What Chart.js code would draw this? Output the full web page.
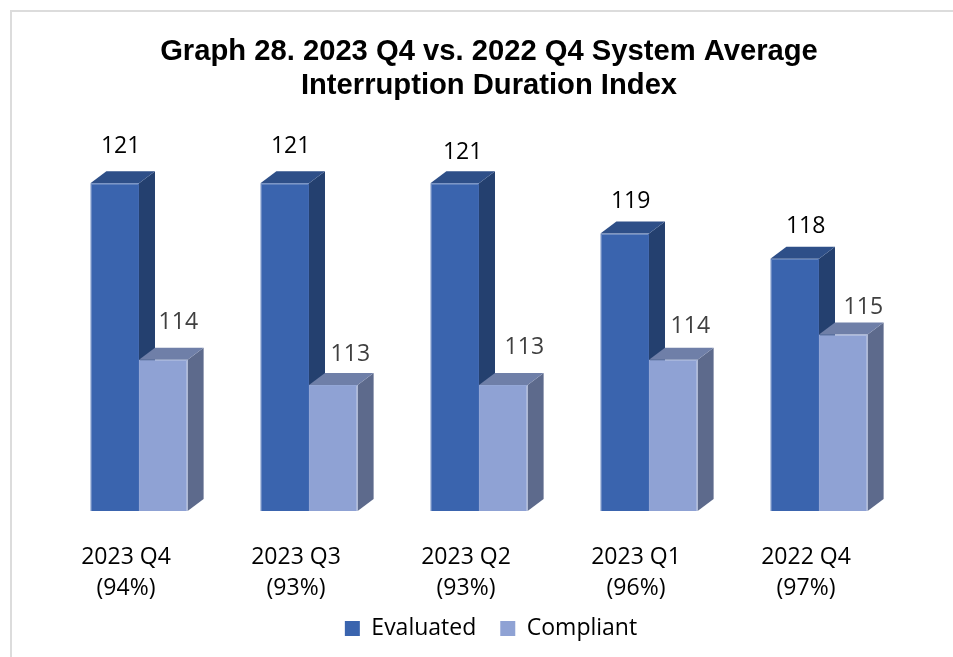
<!DOCTYPE html>
<html><head><meta charset="utf-8">
<style>
html,body{margin:0;padding:0;background:#fff;overflow:hidden}
#wrap{position:absolute;left:0;top:0;width:953px;height:657px}
#frame{position:absolute;left:10px;top:10px;width:960px;height:660px;border-left:2px solid #dcdcdc;border-top:2px solid #dcdcdc}
canvas{position:absolute;left:0;top:0}
</style>
<script src="https://cdn.jsdelivr.net/npm/chart.js@4"></script>
</head><body>
<div id="wrap"><div id="frame"></div><canvas id="c" width="953" height="657"></canvas></div>
<script>
const titleLines = ['Graph 28. 2023 Q4 vs. 2022 Q4 System Average', 'Interruption Duration Index'];
const quarters = ['2023 Q4', '2023 Q3', '2023 Q2', '2023 Q1', '2022 Q4'];
const rates = ['(94%)', '(93%)', '(93%)', '(96%)', '(97%)'];
const evaluated = [121, 121, 121, 119, 118];
const compliant = [114, 113, 113, 114, 115];
const baseValue = 108;
const evaluatedLabelShift = [[6,-37],[6,-37],[8,-31],[6,-32],[11,-32]];
const compliantLabelShift = [[15,-37],[17,-30],[21,-37],[17,-33],[20,-27]];
const depthX = 16, depthY = 12;
const styles = [
  {front:'#3A64AE', edge:'#4269B1', side:'#24406F', top:'#2E4F88', label:'#000000', shifts:evaluatedLabelShift},
  {front:'#8FA2D4', edge:'#94A7D6', side:'#5D6A8C', top:'#6F7FA8', label:'#404040', shifts:compliantLabelShift}
];
function poly(ctx, pts, fill){
  ctx.fillStyle = fill; ctx.beginPath();
  pts.forEach((p,i)=> i?ctx.lineTo(p[0],p[1]):ctx.moveTo(p[0],p[1]));
  ctx.closePath(); ctx.fill();
}
const bars3d = {
  id:'bars3d',
  afterLayout(chart){
    chart.titleBlock.left += 10; chart.titleBlock.right += 10;
    chart.legend.left += 12; chart.legend.right += 12;
    chart.legend.top -= 7; chart.legend.bottom -= 7;
  },
  beforeDatasetsDraw(chart){
    const ctx = chart.ctx;
    chart.data.datasets.forEach((ds,d)=>{
      const st = styles[d];
      chart.getDatasetMeta(d).data.forEach(el=>{
        const {x,y,base,width} = el.getProps(['x','y','base','width'],true);
        const l=x-width/2, r=x+width/2;
        poly(ctx,[[r,y],[r+depthX,y-depthY],[r+depthX,base-depthY],[r,base]],st.side);
        poly(ctx,[[l,y],[l+depthX,y-depthY],[r+depthX,y-depthY],[r,y]],st.top);
      });
    });
  },
  afterDatasetsDraw(chart){
    const ctx = chart.ctx;
    ctx.save();
    ctx.font = '23px "Open Sans"';
    ctx.textAlign='center'; ctx.textBaseline='middle';
    chart.data.datasets.forEach((ds,d)=>{
      const st = styles[d];
      ctx.fillStyle = st.label;
      chart.getDatasetMeta(d).data.forEach((el,i)=>{
        const {x,y} = el.getProps(['x','y'],true);
        ctx.fillText(String(ds.data[i]), x+st.shifts[i][0], y+st.shifts[i][1]);
      });
    });
    ctx.restore();
  }
};
new Chart(document.getElementById('c'),{
  type:'bar',
  data:{
    labels:quarters.map((q,i)=>[q,rates[i]]),
    datasets:[
      {label:'Evaluated',data:evaluated,base:baseValue,backgroundColor:styles[0].front,borderColor:styles[0].edge,borderWidth:1,categoryPercentage:0.572,barPercentage:1},
      {label:'Compliant',data:compliant,base:baseValue,backgroundColor:styles[1].front,borderColor:styles[1].edge,borderWidth:1,categoryPercentage:0.572,barPercentage:1}
    ]
  },
  options:{
    responsive:false,animation:false,
    layout:{padding:{left:54,right:49,top:0,bottom:0}},
    plugins:{
      title:{display:true,text:titleLines,color:'#000',font:{family:'"Liberation Sans"',size:29.2,weight:'bold',lineHeight:1.16},padding:{top:35,bottom:30}},
      legend:{position:'bottom',labels:{color:'#000',font:{family:'"Open Sans"',size:23},boxWidth:15,boxHeight:15,padding:24,generateLabels(chart){
        return chart.data.datasets.map((ds,i)=>({text:ds.label,fillStyle:styles[i].front,strokeStyle:styles[i].front,lineWidth:0,fontColor:'#000',datasetIndex:i,hidden:false}));
      }}},
      tooltip:{enabled:false}
    },
    scales:{
      x:{afterFit(s){s.height=89},grid:{display:false,drawTicks:false},border:{display:false},
        ticks:{color:'#000',font:{family:'"Open Sans"',size:23,lineHeight:1.35},padding:31,labelOffset:-13,maxRotation:0,autoSkip:false}},
      y:{display:false,min:baseValue,max:123}
    }
  },
  plugins:[bars3d]
});
</script></body></html>
